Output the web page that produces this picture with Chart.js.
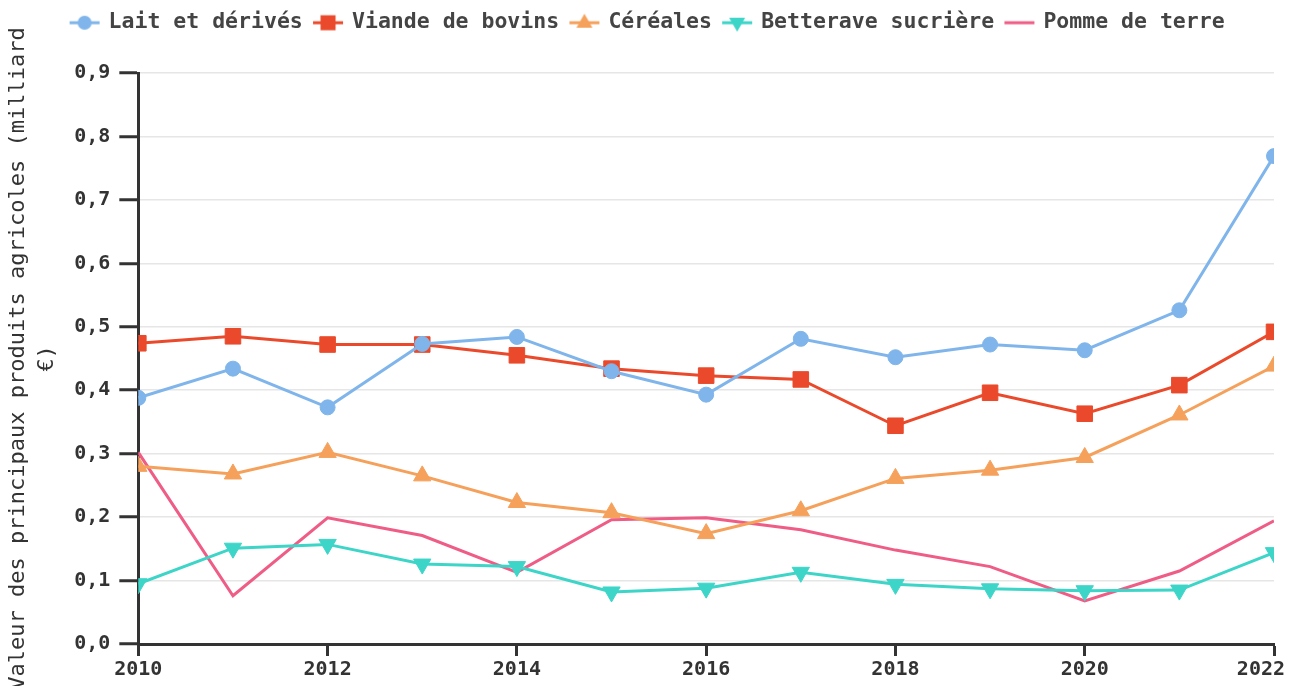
<!DOCTYPE html>
<html><head><meta charset="utf-8">
<script src="https://cdn.jsdelivr.net/npm/chart.js@4.4.1/dist/chart.umd.min.js"></script>
<style>html,body{margin:0;padding:0;background:#fff}#wrap{width:1296px;height:686px;position:relative}</style>
</head><body><div id="wrap"><canvas id="c"></canvas></div>
<script>
const years = [2010,2011,2012,2013,2014,2015,2016,2017,2018,2019,2020,2021,2022];
const laitDerives = [0.388,0.434,0.373,0.473,0.484,0.430,0.393,0.481,0.452,0.472,0.463,0.526,0.769];
const viandeBovins = [0.474,0.485,0.472,0.472,0.455,0.434,0.423,0.417,0.344,0.396,0.363,0.408,0.492];
const cereales = [0.280,0.268,0.302,0.265,0.223,0.207,0.174,0.210,0.261,0.274,0.294,0.361,0.438];
const betterave = [0.095,0.151,0.157,0.126,0.122,0.082,0.088,0.113,0.094,0.087,0.084,0.085,0.144];
const pommeDeTerre = [0.302,0.076,0.199,0.171,0.113,0.196,0.199,0.180,0.148,0.122,0.068,0.115,0.194];
const seriesNames = ["Lait et dérivés","Viande de bovins","Céréales","Betterave sucrière","Pomme de terre"];
const yTitle = ["Valeur des principaux produits agricoles (milliard","€)"];

const colors = ['#7fb5eb','#ea4a2b','#f5a15b','#3dd5c8','#ef5d86'];
const styles = ['circle','rect','triangle','triangle','none'];
const rotations = [0,0,0,180,0];
const radii = [7.5,11,10,10,0];

function pts(arr){ return arr.map((v,i)=>({x:years[i], y:v})); }
const allData = [laitDerives, viandeBovins, cereales, betterave, pommeDeTerre];

function makeIcon(i){
  const cv = document.createElement('canvas');
  cv.width = 32; cv.height = 22;
  const g = cv.getContext('2d');
  g.strokeStyle = colors[i]; g.fillStyle = colors[i]; g.lineWidth = 3;
  g.beginPath(); g.moveTo(1,11); g.lineTo(31,11); g.stroke();
  const cx = 16, cy = 11;
  g.beginPath();
  if (styles[i]==='circle'){ g.arc(cx,cy,7,0,Math.PI*2); g.fill(); }
  else if (styles[i]==='rect'){ g.fillRect(cx-7.5,cy-7.5,15,15); }
  else if (styles[i]==='triangle' && rotations[i]===0){ g.moveTo(cx,cy-9); g.lineTo(cx+8,cy+5); g.lineTo(cx-8,cy+5); g.closePath(); g.fill(); }
  else if (styles[i]==='triangle'){ g.moveTo(cx,cy+9); g.lineTo(cx+8,cy-5); g.lineTo(cx-8,cy-5); g.closePath(); g.fill(); }
  return cv;
}
const icons = seriesNames.map((n,i)=>makeIcon(i));

const datasets = seriesNames.map((name,i)=>({
  label: name,
  data: pts(allData[i]),
  borderColor: colors[i],
  backgroundColor: colors[i],
  borderWidth: 3,
  pointStyle: styles[i]==='none' ? false : styles[i],
  rotation: rotations[i],
  pointRadius: radii[i],
  pointHoverRadius: radii[i],
  pointBorderWidth: 1,
  tension: 0,
  fill: false
}));

const legendMargin = {
  id: 'legendMargin',
  beforeInit(chart){
    const orig = chart.legend.fit;
    chart.legend.fit = function(){ orig.bind(chart.legend)(); this.height += 29.5; };
  }
};

// keep the last x label inside the canvas (right-aligned near the edge)
const lastLabelInside = {
  id: 'lastLabelInside',
  beforeDraw(chart){
    const sc = chart.scales.x;
    const items = sc.getLabelItems(chart.chartArea);
    if (!items || !items.length) return;
    const last = items[items.length - 1];
    last.options.textAlign = 'right';
    last.options.translation[0] = chart.width - 11;
  }
};

const FONT = "'DejaVu Sans Mono', monospace";
const dark = '#333333';

new Chart(document.getElementById('c'), {
  type: 'line',
  data: { datasets },
  plugins: [legendMargin, lastLabelInside],
  options: {
    responsive: true,
    maintainAspectRatio: false,
    animation: false,
    layout: { padding: { left: 0, right: 0, top: 0, bottom: 2 } },
    plugins: {
      tooltip: { enabled: false },
      legend: {
        position: 'top',
        align: 'center',
        labels: {
          usePointStyle: true,
          boxWidth: 26.5,
          boxHeight: 21.5,
          pointStyleWidth: 26.5,
          padding: 12,
          color: '#444',
          font: { family: FONT, size: 21.5, weight: 'bold' },
          generateLabels(chart){
            const items = Chart.defaults.plugins.legend.labels.generateLabels(chart);
            items.forEach((it,i)=>{ it.pointStyle = icons[i]; it.rotation = 0; });
            return items;
          }
        }
      }
    },
    scales: {
      x: {
        type: 'linear',
        min: 2010, max: 2022,
        border: { display: true, color: dark, width: 3 },
        grid: { drawOnChartArea: false, drawTicks: true, tickLength: 12, tickColor: dark, tickWidth: 3 },
        ticks: {
          stepSize: 2, padding: 2, color: dark,
          font: { family: FONT, size: 20, weight: 'bold' },
          maxRotation: 0,
          callback: v => String(v)
        },
        afterFit(scale){ scale.paddingRight = 22; }
      },
      y: {
        min: 0, max: 0.9,
        border: { display: true, color: dark, width: 3 },
        grid: { color: '#e6e6e6', lineWidth: 1.5, drawTicks: true, tickLength: 19, tickColor: dark, tickWidth: 3 },
        ticks: {
          stepSize: 0.1, padding: 9, color: dark,
          font: { family: FONT, size: 20, weight: 'bold' },
          callback: v => v.toFixed(1).replace('.', ',')
        },
        title: {
          display: true,
          text: yTitle,
          color: dark,
          padding: { top: 4, bottom: 4 },
          font: { family: FONT, size: 22, weight: 'normal', lineHeight: 1.3 }
        }
      }
    }
  }
});
</script>
</body></html>
